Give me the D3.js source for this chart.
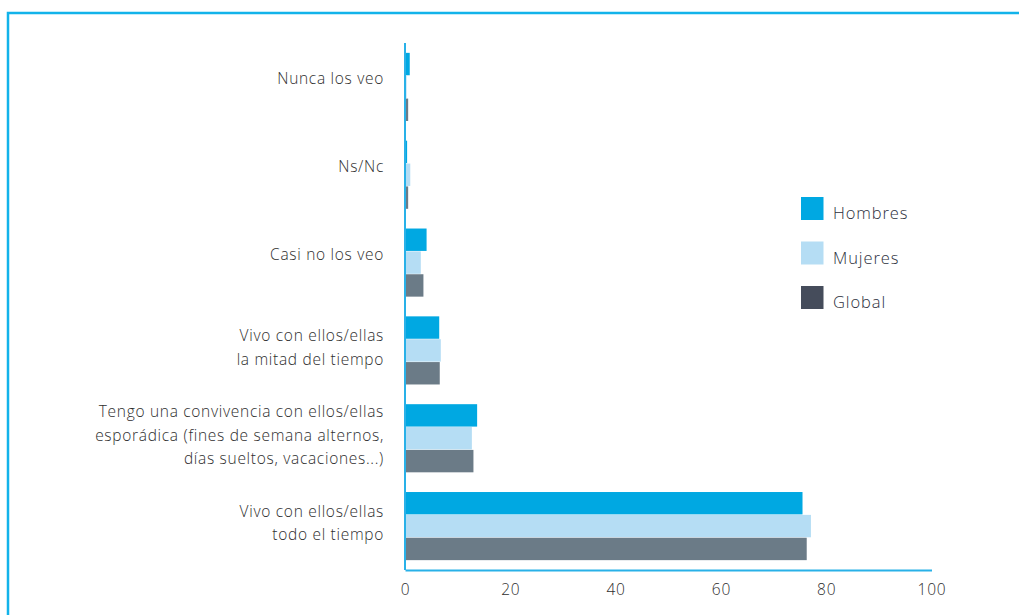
<!DOCTYPE html>
<html>
<head>
<meta charset="utf-8">
<script src="https://cdn.jsdelivr.net/npm/d3@7"></script>
<style>
  html, body { margin: 0; padding: 0; background: #fff; }
  svg { display: block; }
  text { font-family: "Open Sans", sans-serif; font-weight: 300; }
</style>
</head>
<body>
<svg id="chart" width="1019" height="615"></svg>
<script>
const categories = [
  "Nunca los veo",
  "Ns/Nc",
  "Casi no los veo",
  "Vivo con ellos/ellas\nla mitad del tiempo",
  "Tengo una convivencia con ellos/ellas\nesporádica (fines de semana alternos,\ndías sueltos, vacaciones...)",
  "Vivo con ellos/ellas\ntodo el tiempo"
];
const seriesNames = ["Hombres", "Mujeres", "Global"];
const hombres = [0.9, 0.4, 4.1, 6.5, 13.7, 75.5];
const mujeres = [0.3, 1.0, 3.0, 6.8, 12.7, 77.1];
const global  = [0.6, 0.6, 3.5, 6.6, 13.0, 76.3];
const xTicks = [0, 20, 40, 60, 80, 100];

const barColors = ["#00a8e2", "#b5ddf4", "#6b7b87"];
const legendColors = ["#00a8e2", "#b5ddf4", "#454c5b"];
const seriesValues = [hombres, mujeres, global];

const svg = d3.select("#chart");

// frame
svg.append("path")
  .attr("d", "M8,615 V13 H1019")
  .attr("fill", "none")
  .attr("stroke", "#12b3ea")
  .attr("stroke-width", 2.5);

const x = d3.scaleLinear().domain([0, 100]).range([405, 931.5]);
const y = d3.scaleBand().domain(categories).range([43, 570])
  .paddingInner(0.214).paddingOuter(0.107);
const yInner = d3.scaleBand().domain(seriesNames).range([0, y.bandwidth()]).padding(0.02);

const groups = svg.append("g").selectAll("g")
  .data(categories)
  .join("g")
  .attr("transform", d => `translate(0,${y(d)})`);

groups.selectAll("rect")
  .data((d, i) => seriesNames.map((s, j) => ({ s, j, v: seriesValues[j][i] })))
  .join("rect")
  .attr("x", x(0))
  .attr("y", d => yInner(d.s))
  .attr("width", d => x(d.v) - x(0))
  .attr("height", yInner.bandwidth())
  .attr("fill", d => barColors[d.j]);

// axes
const xAxis = d3.axisBottom(x).tickValues(xTicks).tickSize(0).tickPadding(14);
const gx = svg.append("g").attr("transform", "translate(0,570)").call(xAxis);
gx.select(".domain").attr("stroke", "#29b1e8").attr("stroke-width", 2);
gx.selectAll("text").attr("font-size", 15.5).attr("fill", "#2e2e2e")
  .attr("font-family", "'Open Sans', sans-serif").attr("font-weight", 300)
  .attr("letter-spacing", 0.8);

svg.append("line")
  .attr("x1", x(0)).attr("x2", x(0))
  .attr("y1", 43).attr("y2", 570)
  .attr("stroke", "#29b1e8").attr("stroke-width", 2);

// category labels
const lh = 23.5;
svg.append("g").selectAll("text")
  .data(categories)
  .join("text")
  .attr("text-anchor", "end")
  .attr("font-size", 15.5)
  .attr("letter-spacing", 0.7)
  .attr("fill", "#2e2e2e")
  .each(function(d) {
    const lines = d.split("\n");
    const c = y(d) + y.bandwidth() / 2;
    const n = lines.length;
    d3.select(this).selectAll("tspan")
      .data(lines)
      .join("tspan")
      .attr("x", 384)
      .attr("y", (l, i) => c + (i - (n - 1) / 2) * lh + (n === 1 ? -2.5 : 2.5))
      .text(l => l);
  });

// legend
const legend = svg.append("g").selectAll("g")
  .data(seriesNames)
  .join("g")
  .attr("transform", (d, i) => `translate(801,${197 + i * 44.5})`);
legend.append("rect")
  .attr("width", 22.5).attr("height", 23)
  .attr("fill", (d, i) => legendColors[i]);
legend.append("text")
  .attr("x", 32).attr("y", 22)
  .attr("font-size", 16.5)
  .attr("letter-spacing", 0.9)
  .attr("fill", "#2c2f3c")
  .text(d => d);
</script>
</body>
</html>
